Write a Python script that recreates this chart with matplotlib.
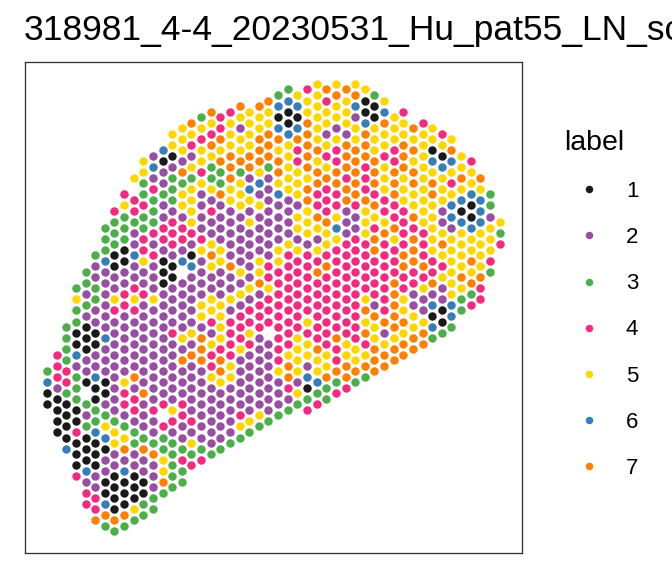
import matplotlib
matplotlib.use("Agg")
import matplotlib.pyplot as plt
from matplotlib.lines import Line2D

plt.rcParams['font.family'] = ['Liberation Sans', 'DejaVu Sans']

title = "318981_4-4_20230531_Hu_pat55_LN_sc"
labels = ["1", "2", "3", "4", "5", "6", "7"]
colors = ["#1A1A1A", "#984EA3", "#4DAF4A", "#F32B80", "#FFD700", "#377EB8", "#FF7F00"]

# Spot grid: one entry per array column. First grid row, then the cluster label of each
# successive spot going down the column ('.' = no spot).
start_rows = [50, 47, 42, 35, 32, 29, 24, 21, 18, 15, 12, 11, 10, 7, 6, 5, 4, 3, 4, 3, 2, 3, 2, 1,
              0, -1, 0, -1, -2, -1, -2, -1, -2, -1, 0, 1, 4, 3, 6, 5, 6, 7, 8, 11, 12, 15, 18, 23]
columns = [
    "3611",
    "44421111",
    "333344311116",
    "353311623331141114",
    "33232111221.3231116244",
    "3223322112261133611122447",
    "3336222222622211235612211673",
    "433311225422222222235522111173",
    "4 5 333 11 22 44 222222 5 44 2 3 5 7 2 6 111 7 3",
    "5 . 44 3 22 6 22 4 5 4 22222 7 2 44 2 33 22 111 5 3",
    "55 33 4 33 44 5 22 4 2 2222222 7 222 3 7 22 11 33",
    "2 6 2 4 333 4 2 4 222 5 2 22222222 4 22 3 7 222 33",
    "6 1 22 3 22 44 2 111 22 22222222 4 . 4 33 55 7 3",
    "5 5 1 2 333 2 444 2 11 222 2 4 222222 5 4 2 33333",
    "555 2 7 3 55 2 44 2 6 . 222 22 5 2 7 222 44 22 3 4 33",
    "7 5 4 2 5 3 5555 4 2 1 6 2222 2 5 2 7 22222 4 2 5 3 4",
    "3 5 4 55 4 5 2222 4 5 2222 55 2 777 2222222 3 4",
    "7 5 4 7 5 33 5 2 4 22 5 7 5 22 55 4 2 5 44 5 222222 3",
    "44 7 5 7 33 7 2222 55 222 5555 4 77 5 22222 3",
    "4 555 777 55 2222 2 7 22 5 2 4444 55 22222 3",
    "7 5 2 55 7 3 555 2222 2 5 2 5 2 444 5 22222 4 5 3",
    "5555 77 2 6 5 2 5 22 222 5 2 44 5 4 222222 5 3",
    "7 55 777 5 6 2 5 2222 55 7 2 444 2222222 5 3",
    "7 55 777 3 2222222 2 44 5 444 . 2222222 3",
    "3 6 1 6 7 5 77 5 6 2222 55 444444444 5 222 3",
    "3 6 11 6 55555 2222 5 444444444 5 77 4 2 3",
    "5 6 1 6 7 44 555 2 55 2 5 4444444 5555 2 5 3",
    "4 55 77777 5 77 555 2 444444 5 4 55 2 6 1 3 4",
    "555555 7 5 77 44 7 5 2 5 4 7 444444 7 55 6 3 4",
    "7 4 55 2 5 4 5 7 444 7 55 4 7 4444444 55 7 33",
    "5 7 55 2 5 44 77 44 5 6 5 4 4444444 7 44 7 3 4",
    "7 555 2 777 4 77 222 4 44444444 55 77 4",
    "5 7 6 2 55 77777 4 22 44 44444444 55 7 3",
    "5 11 6 777 444 7 555 4 4444 5 7 5 7 4 5 7 3",
    "3 11 555 777 4 7 5 4 77 4444 2 7 55 777",
    "5 6 7 55 4 555 44 5 7 4 444444 7 2 5 77",
    "555 44 777 44 7 5 4 44 77777 5 77",
    "4 55 777 555 4444 77 44 55 7 5 77",
    "7 5 7 5 77 55 7 4 7 7 7 44 22 55 77",
    "4 555555555 44 4 7 4 5 22 5 77",
    "55 1 6 5 77 55555 44 7 2 6 1 6 3",
    "4 5 1 6 555 22 5 7 5 4 5 22 11 3",
    "5 7 6 5 4 5 66 2 55 5555 66 3",
    "55 7 5 6 1 6 55 55 7 5 33",
    "4 55 6 11 6 55 7 5 7 3 4",
    "7 5 666 55 55 7 44",
    "33 2 555 4 3",
    "534",
]

xs = {l: [] for l in labels}
ys = {l: [] for l in labels}
for col, (start, text) in enumerate(zip(start_rows, columns)):
    for i, ch in enumerate(text.replace(" ", "")):
        if ch in xs:
            xs[ch].append(col)
            ys[ch].append(start + 2 * i)

W, H = 672, 576
fig = plt.figure(figsize=(W / 100, H / 100), dpi=100)
L, R, T, B = 25.5, 522, 62, 552.5
ax = fig.add_axes([L / W, 1 - B / H, (R - L) / W, (B - T) / H])

for lab, c in zip(labels, colors):
    ax.scatter(xs[lab], ys[lab], s=37, c=c, linewidths=0, zorder=3)

ax.set_xlim((L - 47) / 9.63, (R - 47) / 9.63)
ax.set_ylim((B - 95) / 5.525, (T - 95) / 5.525)
ax.set_xticks([])
ax.set_yticks([])
for s in ax.spines.values():
    s.set_color("#333333")
    s.set_linewidth(0.95)

fig.text(24 / W, 1 - 40 / H, title, fontsize=25.5, color="black", ha="left", va="baseline")

handles = [Line2D([], [], ls="none", marker="o", ms=5.4, mfc=c, mec="none") for c in colors]
leg = fig.legend(handles, labels, title="label", loc="upper left",
                 bbox_to_anchor=(564 / W, 1 - 130 / H), frameon=False, fontsize=16,
                 title_fontsize=20.5, labelspacing=1.13, handletextpad=0.54,
                 handlelength=2.25, borderpad=0, borderaxespad=0)
leg.get_title().set_ha("left")
leg._legend_box.align = "left"

fig.savefig("out.png", dpi=100, facecolor="white")
